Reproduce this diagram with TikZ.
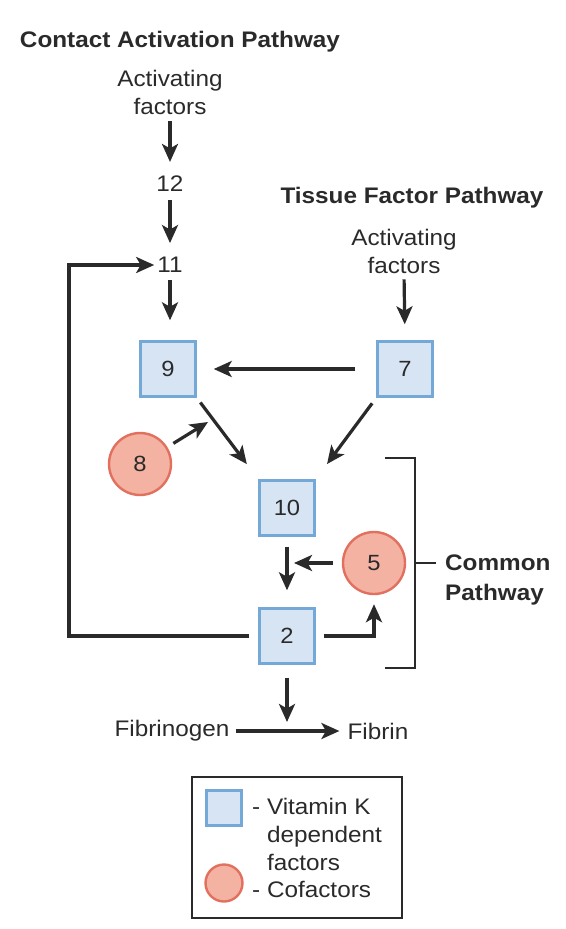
\documentclass[tikz,border=0pt]{standalone}
\usepackage{fontspec}
\setmainfont[FakeStretch=1.08]{Liberation Sans}
\usetikzlibrary{arrows.meta,calc}
\definecolor{ink}{HTML}{2A2A2A}
\definecolor{vkfill}{HTML}{D6E4F4}
\definecolor{vkdraw}{HTML}{74A8D6}
\definecolor{cofill}{HTML}{F4B2A2}
\definecolor{codraw}{HTML}{E2705F}
\tikzset{
  txt/.style={inner sep=0pt, text=ink, font=\fontsize{22.5}{28}\selectfont},
  ttl/.style={inner sep=0pt, text=ink, font=\fontsize{22.5}{30}\selectfont\bfseries},
  vk/.style={draw=vkdraw, fill=vkfill, line width=2.4pt, minimum size=55pt, inner sep=0pt, text=ink, font=\fontsize{22}{27}\selectfont},
  co/.style={circle, draw=codraw, fill=cofill, line width=2.4pt, minimum size=62pt, inner sep=0pt, text=ink, font=\fontsize{22}{27}\selectfont},
  arr/.style={draw=ink, line width=3.2pt, -{Stealth[length=18pt,width=16pt,inset=4.5pt]}},
  ln/.style={draw=ink, line width=2.6pt},
}
\begin{document}
\begin{tikzpicture}[x=1pt,y=-1pt]
\useasboundingbox (0,0) rectangle (565,929);
% titles
\node[ttl] (ttlA) at (180,42) {Contact Activation Pathway};
\node[txt, align=center] (actA) at (170,92) {Activating\\factors};
\node[txt] (n12) at (170,184) {12};
\node[txt] (n11) at (170,265) {11};
\node[ttl] (ttlB) at (412,198) {Tissue Factor Pathway};
\node[txt, align=center] (actB) at (404,251) {Activating\\factors};
% factors
\node[vk] (b9) at (168,369) {9};
\node[vk] (b7) at (405,369) {7};
\node[co] (c8) at (140,464) {8};
\node[vk] (b10) at (287,508) {10};
\node[co] (c5) at (374,563) {5};
\node[vk] (b2) at (287,636) {2};
\node[txt] (fgen) at (172,731) {Fibrinogen};
\node[txt] (fib) at (378,731) {Fibrin};
\node[ttl, align=left, anchor=west] (cp) at (445,580) {Common\\Pathway};
% arrows
\draw[arr, shorten <=7pt, shorten >=14pt] (actA.south) -- (n12.north);
\draw[arr, shorten <=8pt, shorten >=14pt] (n12.south) -- (n11.north);
\draw[arr, shorten <=7pt, shorten >=20pt] (n11.south) -- (b9.north -| n11.south);
\coordinate (fb) at (69,265);
\draw[arr, shorten <=9pt, shorten >=3pt] (b2.west) -| (fb) -- (n11.west);
\draw[arr, shorten <=6pt, shorten >=16pt] (actB.south) -- (b7.north);
\draw[arr, shorten <=21pt, shorten >=17pt] (b7.west) -- (b9.east);
\draw[arr, shorten <=6pt, shorten >=19pt] (b9.south east) -- (b10.north west);
\draw[arr, shorten <=7pt, shorten >=19pt] (b7.south west) -- (b10.north east);
\coordinate (c8t) at (208,422);
\draw[arr, shorten <=7pt] (c8) -- (c8t);
\draw[arr, shorten <=10pt, shorten >=17pt] (b10.south) -- (b2.north);
\coordinate (c5t) at ($(b10.south |- c5.west)+(7,0)$);
\draw[arr, shorten <=9pt] (c5.west) -- (c5t);
\draw[arr, shorten <=8pt, shorten >=9pt] (b2.east) -| (c5.south);
\coordinate (fbt) at ($(b2.south |- fgen.center)+(0,-9)$);
\draw[arr, shorten <=13pt] (b2.south) -- (fbt);
\draw[arr, shorten <=6pt, shorten >=8pt] (fgen.east) -- (fib.west);
% bracket
\draw[ln] (385,458) -- (415,458) -- (415,668) -- (385,668);
\draw[ln] (415,563) -- (436,563);
% legend
\draw[draw=ink, line width=2.6pt] (192,777) rectangle (402,918);
\node[vk, minimum size=35pt] (lsq) at (224,808) {};
\node[co, minimum size=37pt] (lci) at (224,883) {};
\node[txt, align=left, anchor=north west] (lvk) at (252,798) {- Vitamin K\\\phantom{- }dependent\\\phantom{- }factors};
\node[txt, anchor=west] (lco) at (252,889) {- Cofactors};
\end{tikzpicture}
\end{document}
